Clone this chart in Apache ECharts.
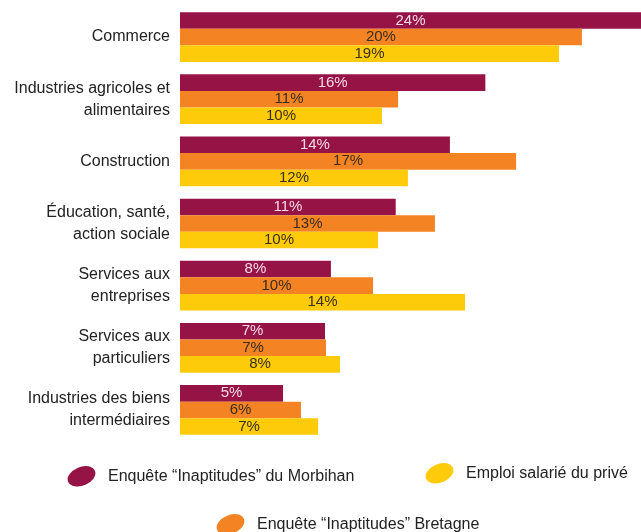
<!DOCTYPE html>
<html>
<head>
<meta charset="utf-8">
<script src="https://cdn.jsdelivr.net/npm/echarts@6/dist/echarts.min.js"></script>
<style>
html,body{margin:0;padding:0;background:#fff;}
#chart{width:641px;height:532px;}
</style>
</head>
<body>
<div id="chart"></div>
<script>
const categories = [
  "Commerce",
  "Industries agricoles et\nalimentaires",
  "Construction",
  "Éducation, santé,\naction sociale",
  "Services aux\nentreprises",
  "Services aux\nparticuliers",
  "Industries des biens\nintermédiaires"
];
const seriesNames = [
  "Enquête “Inaptitudes” du Morbihan",
  "Enquête “Inaptitudes” Bretagne",
  "Emploi salarié du privé"
];
const morbihan = [24.0, 15.5, 13.7, 10.95, 7.66, 7.36, 5.23];
const bretagne = [20.4, 11.07, 17.06, 12.94, 9.8, 7.41, 6.14];
const emploi   = [19.24, 10.25, 11.57, 10.05, 14.47, 8.12, 7.01];

const colors = ["#961345", "#f38323", "#fecb0a"];
const FONT = "Liberation Sans";
const ellipse = "path://M-12.9,5.6 A14,9 -22 1,1 12.9,-5.6 A14,9 -22 1,1 -12.9,5.6 Z";

function mkSeries(name, data, color, labelColor) {
  return {
    name: name,
    type: "bar",
    data: data,
    barGap: "0%",
    barCategoryGap: "20%",
    clip: true,
    itemStyle: { color: color },
    label: {
      show: true,
      position: "inside",
      color: labelColor,
      fontFamily: FONT,
      fontSize: 15,
      formatter: p => Math.round(p.value) + "%"
    }
  };
}

function mkLegend(name, left, top) {
  return {
    data: [name],
    left: left,
    top: top,
    padding: 0,
    icon: ellipse,
    itemWidth: 29,
    itemHeight: 20,
    textStyle: { fontFamily: FONT, fontSize: 16, color: "#222", padding: [0, 0, 0, 7] }
  };
}

const chart = echarts.init(document.getElementById("chart"));
chart.setOption({
  animation: false,
  color: colors,
  grid: { left: 180, right: 0, top: 6, bottom: 91, containLabel: false },
  xAxis: {
    type: "value",
    min: 0,
    max: 23.4,
    show: false
  },
  yAxis: {
    type: "category",
    data: categories,
    inverse: true,
    axisLine: { show: false },
    axisTick: { show: false },
    axisLabel: {
      margin: 10,
      fontFamily: FONT,
      fontSize: 16,
      color: "#222",
      lineHeight: 22,
      align: "right"
    }
  },
  legend: [
    mkLegend(seriesNames[0], 67, 467),
    mkLegend(seriesNames[2], 425, 464),
    mkLegend(seriesNames[1], 216, 515)
  ],
  series: [
    mkSeries(seriesNames[0], morbihan, colors[0], "#f6d9e6"),
    mkSeries(seriesNames[1], bretagne, colors[1], "#3a2e1e"),
    mkSeries(seriesNames[2], emploi, colors[2], "#3a2e1e")
  ]
});
</script>
</body>
</html>
